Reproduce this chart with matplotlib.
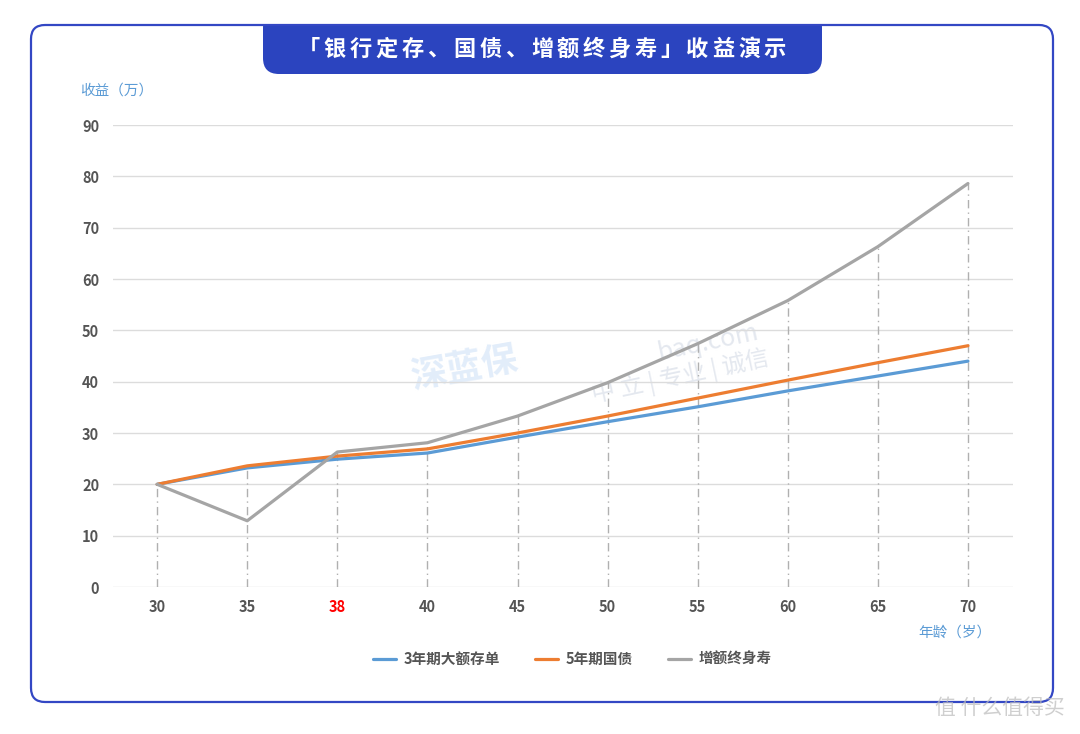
import matplotlib.pyplot as plt
from matplotlib.patches import FancyBboxPatch, Rectangle

plt.rcParams['font.family'] = ['Noto Sans CJK SC', 'DejaVu Sans']

# data (万元)
ages = ['30', '35', '38', '40', '45', '50', '55', '60', '65', '70']
deposit_3y = [20, 23.2, 24.9, 26.1, 29.2, 32.2, 35.1, 38.2, 41.1, 44.0]
bond_5y = [20, 23.6, 25.5, 26.9, 30.0, 33.3, 36.8, 40.3, 43.7, 47.0]
life_ins = [20, 12.9, 26.3, 28.1, 33.3, 39.8, 47.4, 55.8, 66.3, 78.6]
series_names = ['3年期大额存单', '5年期国债', '增额终身寿']
series_colors = ['#5b9bd5', '#ed7d31', '#a5a5a5']
y_ticks = [0, 10, 20, 30, 40, 50, 60, 70, 80, 90]
title = '「银行定存、国债、增额终身寿」收益演示'

W, H = 1080, 734
fig = plt.figure(figsize=(W / 100, H / 100), dpi=100)

# background card in pixel coordinates
bg = fig.add_axes([0, 0, 1, 1])
bg.set_xlim(0, W)
bg.set_ylim(H, 0)
bg.axis('off')

blue_dark = '#2b44bf'
bg.add_patch(FancyBboxPatch((263, 12), 559, 62, boxstyle="round,pad=0,rounding_size=16",
                            facecolor=blue_dark, edgecolor='none', zorder=1))
bg.add_patch(Rectangle((255, 0), 580, 25, facecolor='white', edgecolor='none', zorder=2))
bg.add_patch(FancyBboxPatch((31, 25), 1022, 677, boxstyle="round,pad=0,rounding_size=14",
                            facecolor='none', edgecolor='#3347c4', linewidth=1.6, zorder=3))
# title with letter spacing
step = (775 - 309) / (len(title) - 1)
for k, ch in enumerate(title):
    bg.text(309 + k * step, 49, ch, ha='center', va='center',
            color='white', fontsize=16, fontweight='bold', zorder=4)

# faint watermarks
bg.text(680, 377, '中 立 | 专业 | 诚信', ha='center', va='center', fontsize=17,
        color='#e4e8ef', rotation=12, zorder=0)
bg.text(708, 343, 'baq.com', ha='center', va='center', fontsize=18,
        color='#e4e8ef', rotation=12, zorder=0)
bg.text(465, 368, '深蓝保', ha='center', va='center', fontsize=26, fontweight='bold',
        color='#e2edfa', rotation=10, zorder=0)
bg.text(1000, 708, '值 什么值得买', ha='center', va='center', fontsize=15,
        color='#bbbbbb', alpha=0.7, zorder=4)

# main chart
ax = fig.add_axes([113 / W, 1 - 587 / H, 900 / W, (587 - 125) / H])
ax.patch.set_alpha(0)
x = list(range(len(ages)))
for i in x:
    top = max(deposit_3y[i], bond_5y[i], life_ins[i])
    ax.plot([i, i], [0, top], color='#b0b0b0', lw=1.0, linestyle=(0, (6, 3, 1, 3)), zorder=1)

for vals, name, c in zip([deposit_3y, bond_5y, life_ins], series_names, series_colors):
    ax.plot(x, vals, color=c, lw=2.3, label=name, zorder=3, solid_capstyle='round')

ax.set_xlim(-0.49, 9.5)
ax.set_ylim(0, 90)
ax.set_yticks(y_ticks)
ax.set_xticks(x)
ax.set_xticklabels(ages)
ax.grid(axis='y', color='#dcdcdc', lw=1.0)
ax.set_axisbelow(True)
for s in ax.spines.values():
    s.set_visible(False)
ax.tick_params(length=0, labelsize=10.5, labelcolor='#555555')
ax.tick_params(axis='y', pad=10)
ax.tick_params(axis='x', pad=9)
for lab in ax.get_xticklabels() + ax.get_yticklabels():
    lab.set_fontweight('bold')
ax.get_xticklabels()[2].set_color('red')

bg.text(80, 91, '收益（万）', ha='left', va='center', fontsize=10.5, color='#5b9bd5')
bg.text(955, 633, '年龄（岁）', ha='center', va='center', fontsize=10.5, color='#5b9bd5')

leg = ax.legend(loc='center', bbox_to_anchor=(572 / W, 1 - 659 / H), bbox_transform=fig.transFigure,
                ncol=3, frameon=False, fontsize=10.5, handlelength=1.6, columnspacing=2.4,
                handletextpad=0.5)
for t in leg.get_texts():
    t.set_color('#555555')
    t.set_fontweight('bold')

fig.savefig('out.png', dpi=100, facecolor='white')
